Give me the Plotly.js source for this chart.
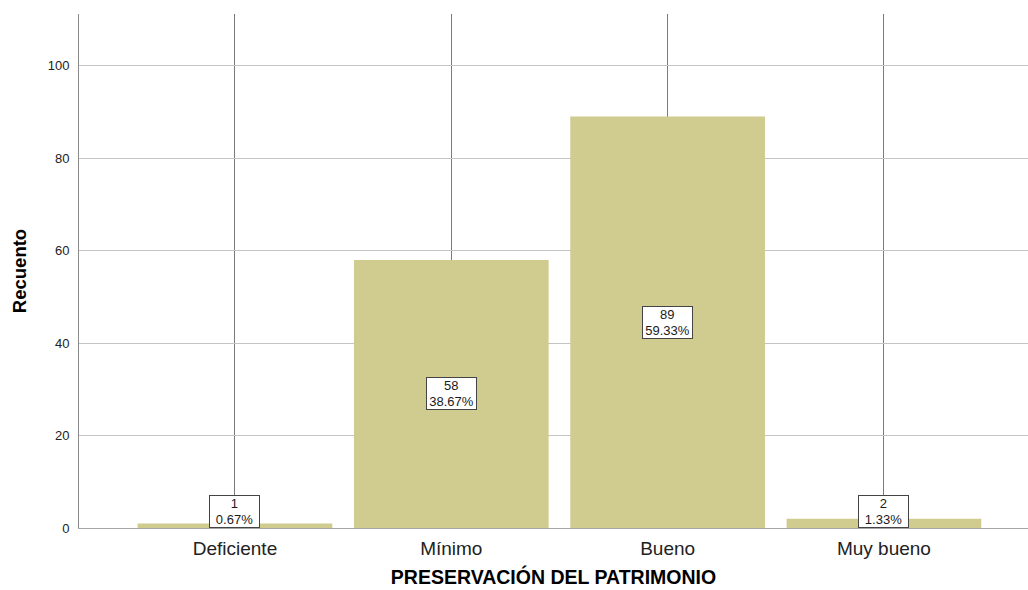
<!DOCTYPE html>
<html>
<head>
<meta charset="utf-8">
<script src="https://cdn.plot.ly/plotly-3.0.1.min.js"></script>
<style>html,body{margin:0;padding:0;background:#fff;}#chart{width:1028px;height:590px;}</style>
</head>
<body>
<div id="chart"></div>
<script>
const categories = ["Deficiente", "Mínimo", "Bueno", "Muy bueno"];
const counts = [1, 58, 89, 2];
const percentLabels = ["0.67%", "38.67%", "59.33%", "1.33%"];
const yTickValues = [0, 20, 40, 60, 80, 100];

const FONT = "Liberation Sans, Arial, sans-serif";

const trace = {
  type: "bar",
  x: categories,
  y: counts,
  width: 0.9,
  marker: { color: "#D0CB8E", line: { width: 0 } },
  hoverinfo: "x+y"
};

const annotations = categories.map((c, i) => {
  const small = counts[i] / 2 < 4;
  return {
    x: c,
    y: small ? 0 : counts[i] / 2,
    xref: "x",
    yref: "y",
    yanchor: small ? "bottom" : "middle",
    text: counts[i] + "<br>" + percentLabels[i],
    showarrow: false,
    font: { family: FONT, size: 13, color: "#1a1a1a" },
    bgcolor: "#ffffff",
    bordercolor: "#444444",
    borderwidth: 1,
    borderpad: 1,
    width: 47,
    height: 29
  };
});

const layout = {
  width: 1028,
  height: 590,
  margin: { l: 79, r: 0, t: 14, b: 62 },
  paper_bgcolor: "#ffffff",
  plot_bgcolor: "#ffffff",
  showlegend: false,
  bargap: 0.1,
  font: { family: FONT, color: "#222222" },
  xaxis: {
    type: "category",
    range: [-0.721, 3.666],
    showgrid: true,
    gridcolor: "#7a7a7a",
    gridwidth: 1,
    showline: true,
    linecolor: "#a6a6a6",
    linewidth: 1,
    ticks: "",
    ticklabelstandoff: 3,
    tickfont: { family: FONT, size: 19, color: "#222222" },
    title: {
      text: "PRESERVACIÓN DEL PATRIMONIO",
      font: { family: FONT, size: 19.5, color: "#000000", weight: "bold" },
      standoff: 12
    },
    zeroline: false,
    fixedrange: true
  },
  yaxis: {
    range: [0, 111.2],
    tickvals: yTickValues,
    ticktext: yTickValues.map(String),
    showgrid: true,
    gridcolor: "#c4c4c4",
    gridwidth: 1,
    showline: true,
    linecolor: "#8a8a8a",
    linewidth: 1,
    ticks: "",
    ticklabelstandoff: 6,
    tickfont: { family: FONT, size: 13, color: "#222222" },
    zeroline: false,
    title: {
      text: "Recuento",
      font: { family: FONT, size: 18.5, color: "#000000", weight: "bold" },
      standoff: 16
    },
    fixedrange: true
  },
  annotations: annotations
};

Plotly.newPlot("chart", [trace], layout, { displayModeBar: false, staticPlot: true });
</script>
</body>
</html>
